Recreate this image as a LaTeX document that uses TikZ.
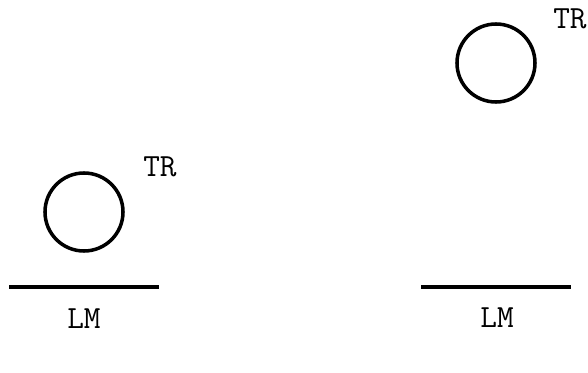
\documentclass[tikz,border=0pt]{standalone}
\usepackage{fontspec}
\usetikzlibrary{positioning}

\tikzset{
	ball/.style={draw,circle,line width=2.5pt,minimum size=1.95cm,inner sep=0pt},
	floor/.style={line width=2.5pt},
	tag/.style={font=\ttfamily\fontsize{23}{24}\selectfont,inner sep=0pt}
}

\begin{document}
\begin{tikzpicture}[x=0.025cm,y=-0.025cm]
	\useasboundingbox (0,0) rectangle (588,373);
	% left: ball low, close to the line
	\node[ball] (ballL) at (84,212) {};
	\node[tag] (trL) at (160,167) {TR};
	\coordinate (lmLa) at (9,287);
	\coordinate (lmLb) at (159,287);
	\draw[floor] (lmLa) -- (lmLb);
	\node[tag] (lmL) at (84,319) {LM};
	% right: ball high above the line
	\node[ball] (ballR) at (496,63) {};
	\node[tag,anchor=west] (trR) at (553,19) {TR};
	\coordinate (lmRa) at (421,287);
	\coordinate (lmRb) at (571,287);
	\draw[floor] (lmRa) -- (lmRb);
	\node[tag] (lmR) at (497,318) {LM};
\end{tikzpicture}
\end{document}
